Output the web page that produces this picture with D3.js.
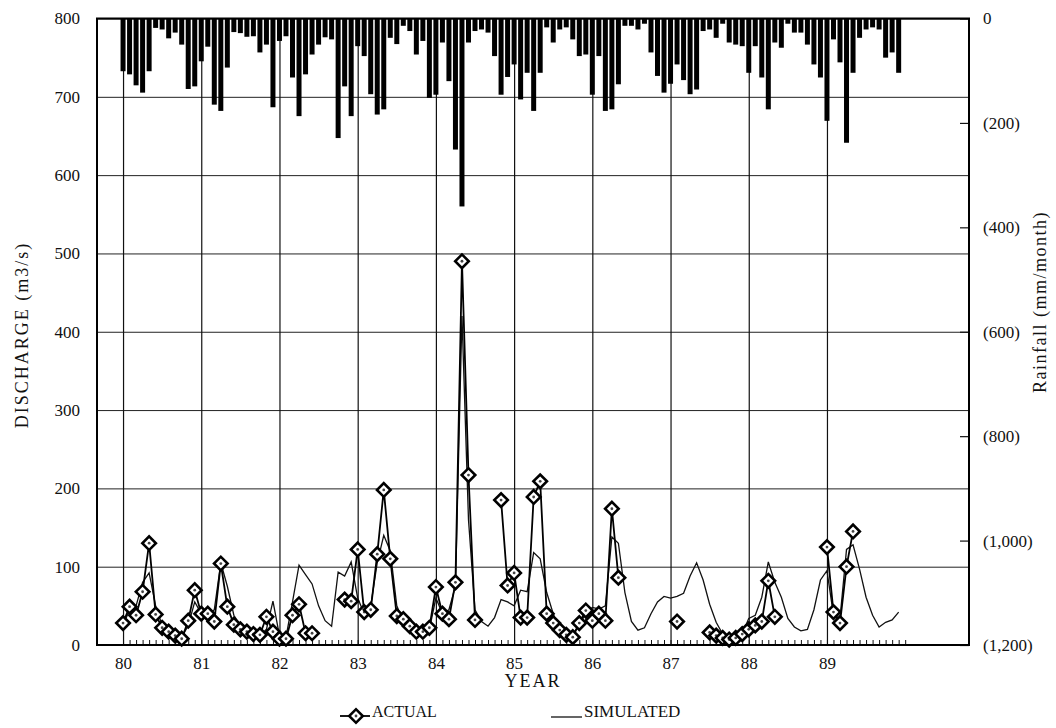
<!DOCTYPE html>
<html>
<head>
<meta charset="utf-8">
<script src="https://cdnjs.cloudflare.com/ajax/libs/d3/7.8.5/d3.min.js"></script>
<style>
    body { margin: 0; background: #fff; }
    text { font-family: "Liberation Serif", "Times New Roman", serif; fill: #111; }
</style>
</head>
<body>
<svg id="Target" width="1056" height="728"></svg>
<script>
// monthly series, Jan 1980 .. Dec 1989
var firstYear = 80;
var yearLabels = ["80", "81", "82", "83", "84", "85", "86", "87", "88", "89"];
var dischargeTicks = [0, 100, 200, 300, 400, 500, 600, 700, 800];
var rainTicks = [0, 200, 400, 600, 800, 1000, 1200];

// rainfall (mm/month)
var rainfall = [
    101, 107, 128, 142, 101, 18, 21, 38, 27, 50, 135, 130,
    82, 54, 165, 177, 94, 26, 28, 35, 34, 65, 50, 170,
    43, 34, 113, 187, 107, 69, 50, 36, 40, 229, 130, 187,
    53, 72, 145, 184, 174, 37, 49, 14, 24, 69, 43, 152,
    146, 46, 120, 251, 360, 46, 24, 21, 27, 72, 146, 112,
    88, 155, 104, 177, 104, 17, 46, 21, 17, 40, 72, 69,
    146, 72, 177, 174, 126, 14, 14, 21, 10, 65, 110, 142,
    125, 88, 118, 145, 136, 24, 21, 37, 10, 46, 50, 53,
    104, 53, 113, 174, 46, 56, 10, 27, 27, 50, 88, 113,
    196, 40, 84, 238, 104, 37, 21, 17, 21, 75, 65, 104
];

// observed discharge (m3/s), null = no record
var actual = [
    28, 49, 38, 68, 130, 39, 22, 17, 12, 8, 31, 70,
    40, 40, 30, 104, 49, 26, 20, 17, 14, 13, 36, 17,
    8, 8, 38, 52, 15, 15, null, null, null, null, 58, 56,
    122, 42, 45, 116, 198, 110, 37, 33, 24, 17, 17, 22,
    74, 40, 33, 80, 490, 217, 32, null, null, null, 185, 76,
    92, 35, 35, 189, 209, 40, 28, 19, 13, 10, 28, 44,
    31, 40, 31, 174, 86, null, null, null, null, null, null, null,
    null, 30, null, null, null, null, 16, 12, 9, 7, 9, 14,
    20, 25, 30, 82, 36, null, null, null, null, null, null, null,
    125, 42, 28, 100, 145, null, null, null, null, null, null, null
];

// simulated discharge (m3/s)
var simulated = [
    25, 45, 50, 80, 92, 50, 25, 15, 12, 10, 25, 55,
    40, 38, 45, 105, 75, 38, 25, 17, 13, 12, 20, 56,
    12, 10, 55, 102, 90, 78, 50, 31, 24, 93, 88, 106,
    60, 40, 50, 105, 140, 120, 50, 30, 22, 17, 15, 20,
    60, 40, 45, 75, 420, 160, 45, 30, 24, 35, 58, 55,
    50, 70, 68, 118, 110, 67, 40, 18, 10, 14, 26, 40,
    48, 46, 50, 138, 130, 67, 30, 19, 22, 40, 55, 62,
    60, 62, 66, 88, 105, 83, 52, 29, 14, 9, 7, 14,
    34, 38, 61, 106, 80, 61, 34, 23, 18, 20, 45, 83,
    95, 38, 34, 122, 128, 97, 61, 38, 23, 29, 32, 42
];

var svg = d3.select("#Target");
var plotLeft = 97, plotRight = 969, plotTop = 18.5, plotBottom = 645;

var x = d3.scaleLinear().domain([79.667, 90.816]).range([plotLeft, plotRight]);
var yQ = d3.scaleLinear().domain([0, 800]).range([plotBottom, plotTop]);
var yR = d3.scaleLinear().domain([0, 1200]).range([plotTop, plotBottom]);
var monthX = function (i) { return x(firstYear + i / 12); };

// horizontal grid + left labels
var gLeft = svg.append("g")
    .attr("transform", "translate(" + plotLeft + ",0)")
    .call(d3.axisLeft(yQ).tickValues(dischargeTicks).tickSize(-(plotRight - plotLeft)).tickPadding(17).tickFormat(d3.format("d")));
gLeft.select(".domain").remove();
gLeft.selectAll("line").attr("stroke", "#222").attr("stroke-width", 1);
gLeft.selectAll("text").attr("font-size", 17).attr("font-family", "Liberation Serif");

// vertical year grid + year labels
var years = yearLabels.map(function (d) { return +d; });
var gBottom = svg.append("g")
    .attr("transform", "translate(0," + plotBottom + ")")
    .call(d3.axisBottom(x).tickValues(years).tickSize(-(plotBottom - plotTop)).tickPadding(12).tickFormat(function (d, i) { return yearLabels[i]; }));
gBottom.select(".domain").remove();
gBottom.selectAll("line").attr("stroke", "#111").attr("stroke-width", 1.2);
gBottom.selectAll("text").attr("font-size", 17).attr("font-family", "Liberation Serif");

// monthly minor ticks
var months = d3.range(0, 121).map(function (i) { return firstYear + i / 12; });
var gMinor = svg.append("g")
    .attr("transform", "translate(0," + plotBottom + ")")
    .call(d3.axisBottom(x).tickValues(months).tickSize(-5).tickFormat(""));
gMinor.select(".domain").remove();
gMinor.selectAll("line").attr("stroke", "#111").attr("stroke-width", 1);

// right rainfall axis
var gRight = svg.append("g")
    .attr("transform", "translate(" + plotRight + ",0)")
    .call(d3.axisRight(yR).tickValues(rainTicks).tickSize(-9).tickPadding(14)
        .tickFormat(function (d) { return d === 0 ? "0" : "(" + d3.format(",")(d) + ")"; }));
gRight.select(".domain").remove();
gRight.selectAll("line").attr("stroke", "#111").attr("stroke-width", 1.2);
gRight.selectAll("text").attr("font-size", 17).attr("font-family", "Liberation Serif");

// rainfall bars hanging from the top
svg.append("g")
    .selectAll("rect")
    .data(rainfall)
    .enter()
    .append("rect")
    .attr("x", function (d, i) { return monthX(i) - 2.5; })
    .attr("y", yR(0))
    .attr("width", 5)
    .attr("height", function (d) { return yR(d) - yR(0); })
    .attr("fill", "#000");

// simulated line
var line = d3.line()
    .defined(function (d) { return d !== null; })
    .x(function (d, i) { return monthX(i); })
    .y(function (d) { return yQ(d); });

svg.append("path")
    .datum(simulated)
    .attr("d", line)
    .attr("fill", "none")
    .attr("stroke", "#111")
    .attr("stroke-width", 1.3);

// actual line + diamonds
svg.append("path")
    .datum(actual)
    .attr("d", line)
    .attr("fill", "none")
    .attr("stroke", "#000")
    .attr("stroke-width", 1.8);

var diamond = d3.symbol().type(d3.symbolSquare).size(92);
var pts = actual.map(function (d, i) { return { v: d, i: i }; })
    .filter(function (d) { return d.v !== null; });
var marks = svg.append("g")
    .selectAll("g")
    .data(pts)
    .enter()
    .append("g")
    .attr("transform", function (d) { return "translate(" + monthX(d.i) + "," + yQ(d.v) + ")"; });
marks.append("path")
    .attr("d", diamond)
    .attr("transform", "rotate(45)")
    .attr("fill", "#fff")
    .attr("stroke", "#000")
    .attr("stroke-width", 2.6);
marks.append("circle")
    .attr("r", 1.4)
    .attr("fill", "#444");

// plot frame
svg.append("rect")
    .attr("x", plotLeft)
    .attr("y", plotTop)
    .attr("width", plotRight - plotLeft)
    .attr("height", plotBottom - plotTop)
    .attr("fill", "none")
    .attr("stroke", "#000")
    .attr("stroke-width", 2);

// axis titles
svg.append("text")
    .attr("transform", "translate(28,335) rotate(-90)")
    .attr("text-anchor", "middle")
    .attr("font-size", 18)
    .attr("letter-spacing", 2)
    .text("DISCHARGE (m3/s)");
svg.append("text")
    .attr("transform", "translate(1046,302) rotate(-90)")
    .attr("text-anchor", "middle")
    .attr("font-size", 18)
    .attr("letter-spacing", 1.5)
    .text("Rainfall (mm/month)");
svg.append("text")
    .attr("x", 533)
    .attr("y", 687)
    .attr("text-anchor", "middle")
    .attr("font-size", 18)
    .attr("letter-spacing", 2)
    .text("YEAR");

// legend
var legend = svg.append("g").attr("transform", "translate(0,716)");
legend.append("line")
    .attr("x1", 340).attr("x2", 370).attr("y1", 0).attr("y2", 0)
    .attr("stroke", "#000").attr("stroke-width", 1.8);
var lm = legend.append("g").attr("transform", "translate(356,0)");
lm.append("path")
    .attr("d", diamond)
    .attr("transform", "rotate(45)")
    .attr("fill", "#fff")
    .attr("stroke", "#000")
    .attr("stroke-width", 2.6);
lm.append("circle").attr("r", 1.4).attr("fill", "#444");
legend.append("text")
    .attr("x", 372).attr("y", 1)
    .attr("font-size", 16)
    .text("ACTUAL");
legend.append("line")
    .attr("x1", 551).attr("x2", 582).attr("y1", 1).attr("y2", 1)
    .attr("stroke", "#111").attr("stroke-width", 1.3);
legend.append("text")
    .attr("x", 584).attr("y", 1)
    .attr("font-size", 17)
    .text("SIMULATED");
</script>
</body>
</html>
